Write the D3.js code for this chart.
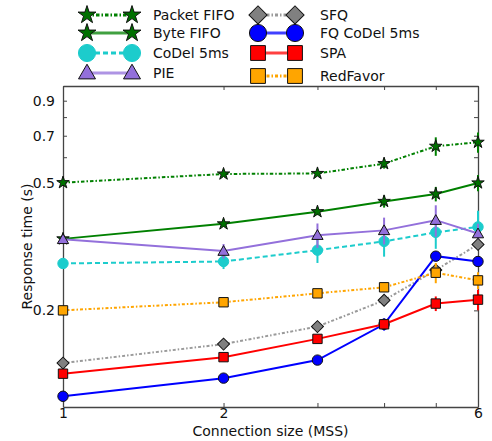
<!DOCTYPE html>
<html>
<head>
<meta charset="utf-8">
<script src="https://cdn.jsdelivr.net/npm/d3@7/dist/d3.min.js"></script>
<style>
  body { margin: 0; background: #fff; }
  text { font-family: "DejaVu Sans", sans-serif; }
</style>
</head>
<body>
<div id="chart"></div>
<script>
// connection size in MSS
const sizes = [1, 2, 3, 4, 5, 6];
const xTickLabels = [1, 2, 6];
const xMinorTicks = [3, 4, 5];
const yTickLabels = [0.2, 0.5, 0.7, 0.9];
const yMinorTicks = [0.6, 0.8];

// mean response time (s) per scheme
const packetFifo = [0.500, 0.532, 0.534, 0.573, 0.649, 0.668];
const byteFifo   = [0.334, 0.372, 0.406, 0.437, 0.461, 0.499];
const codel      = [0.280, 0.284, 0.308, 0.328, 0.350, 0.364];
const pie        = [0.333, 0.306, 0.343, 0.355, 0.382, 0.347];
const sfq        = [0.137, 0.157, 0.178, 0.215, 0.267, 0.321];
const fqCodel    = [0.108, 0.123, 0.140, 0.181, 0.295, 0.284];
const spa        = [0.127, 0.143, 0.163, 0.181, 0.210, 0.216];
const redFavor   = [0.200, 0.212, 0.226, 0.236, 0.262, 0.248];

// error bar half widths (s)
const packetFifoErr = [0.008, 0.008, 0.008, 0.020, 0.043, 0.048];
const byteFifoErr   = [0.006, 0.008, 0.010, 0.019, 0.024, 0.029];
const codelErr      = [0.004, 0.015, 0.027, 0.034, 0.039, 0.045];
const pieErr        = [0.005, 0.016, 0.030, 0.034, 0.043, 0.025];
const sfqErr        = [0.002, 0.003, 0.003, 0.004, 0.005, 0.006];
const fqCodelErr    = [0.002, 0.003, 0.004, 0.008, 0.010, 0.010];
const spaErr        = [0.003, 0.003, 0.004, 0.005, 0.011, 0.016];
const redFavorErr   = [0.003, 0.003, 0.004, 0.005, 0.019, 0.015];

const width = 492, height = 441;
const plot = { left: 63, top: 86, right: 478, bottom: 407 };

const series = [
  { name: 'Packet FIFO', v: packetFifo, e: packetFifoErr, color: '#008000', fill: '#007000', dash: '3.5,2,1.5,2', shape: 'star', col: 0, row: 0 },
  { name: 'Byte FIFO', v: byteFifo, e: byteFifoErr, color: '#008000', fill: '#007000', dash: null, shape: 'star', col: 0, row: 1 },
  { name: 'CoDel 5ms', v: codel, e: codelErr, color: '#1ccccc', fill: '#1ccccc', dash: '5,3', shape: 'circle', edge: '#1ccccc', col: 0, row: 2 },
  { name: 'PIE', v: pie, e: pieErr, color: '#9370db', fill: '#9370db', dash: null, shape: 'triangle', col: 0, row: 3 },
  { name: 'SFQ', v: sfq, e: sfqErr, color: '#9a9a9a', fill: '#808080', dash: '3,2,1.5,2', shape: 'diamond', col: 1, row: 0 },
  { name: 'FQ CoDel 5ms', v: fqCodel, e: fqCodelErr, color: '#0000ff', fill: '#0000ff', dash: null, shape: 'circle', col: 1, row: 1 },
  { name: 'SPA', v: spa, e: spaErr, color: '#ff0000', fill: '#ff0000', dash: null, shape: 'square', col: 1, row: 2 },
  { name: 'RedFavor', v: redFavor, e: redFavorErr, color: '#ffa500', fill: '#ffa500', dash: '3,2,1.5,2', shape: 'square', col: 1, row: 3 }
];

const x = d3.scaleLog().domain([1, 6]).range([plot.left, plot.right]);
const y = d3.scaleLog().domain([0.1, 1.0]).range([plot.bottom, plot.top]);

const svg = d3.select('#chart').append('svg')
  .attr('width', width)
  .attr('height', height);

// *** symbol helpers *** //
const symbolSizes = {
  star: [48, 100], circle: [85, 230], triangle: [55, 125], square: [88, 220], diamond: [72, 165]
};
const symbolTypes = {
  star: d3.symbolStar, circle: d3.symbolCircle, triangle: d3.symbolTriangle,
  square: d3.symbolSquare, diamond: d3.symbolSquare
};
function drawMarker(g, s, cx, cy, big) {
  const size = symbolSizes[s.shape][big ? 1 : 0];
  g.append('path')
    .attr('d', d3.symbol().type(symbolTypes[s.shape]).size(size)())
    .attr('transform', `translate(${cx},${cy})` + (s.shape === 'diamond' ? ' rotate(45)' : '') + (s.shape === 'triangle' ? ' translate(0,1)' : ''))
    .attr('fill', s.fill)
    .attr('stroke', s.edge || '#111')
    .attr('stroke-width', 1);
}

// *** axes frame *** //
const axes = svg.append('g');
const bottomAxis = d3.axisBottom(x).tickValues(xTickLabels).tickFormat(d3.format('d')).tickSizeInner(-4).tickSizeOuter(0).tickPadding(1);
const topAxis = d3.axisTop(x).tickValues(xTickLabels.concat(xMinorTicks)).tickFormat('').tickSizeInner(-4).tickSizeOuter(0);
const leftAxis = d3.axisLeft(y).tickValues(yTickLabels).tickFormat(d3.format('.1f')).tickSizeInner(-4).tickSizeOuter(0).tickPadding(8);
const rightAxis = d3.axisRight(y).tickValues(yTickLabels.concat(yMinorTicks)).tickFormat('').tickSizeInner(-4).tickSizeOuter(0);

axes.append('g').attr('transform', `translate(0,${plot.bottom})`).call(bottomAxis);
axes.append('g').attr('transform', `translate(0,${plot.top})`).call(topAxis);
axes.append('g').attr('transform', `translate(${plot.left},0)`).call(leftAxis);
axes.append('g').attr('transform', `translate(${plot.right},0)`).call(rightAxis);

// unlabeled ticks on the bottom and left
axes.append('g').attr('transform', `translate(0,${plot.bottom})`)
  .call(d3.axisBottom(x).tickValues(xMinorTicks).tickFormat('').tickSizeInner(-4).tickSizeOuter(0))
  .select('.domain').remove();
axes.append('g').attr('transform', `translate(${plot.left},0)`)
  .call(d3.axisLeft(y).tickValues(yMinorTicks).tickFormat('').tickSizeInner(-4).tickSizeOuter(0))
  .select('.domain').remove();

axes.selectAll('.domain').attr('stroke', '#444').attr('stroke-width', 1.3);
axes.selectAll('.tick line').attr('stroke', '#444').attr('stroke-width', 1);
axes.selectAll('.tick text')
  .style('font-family', '"DejaVu Sans", sans-serif')
  .style('font-size', '14px')
  .attr('fill', '#111');

// *** axis labels *** //
svg.append('text')
  .attr('x', (plot.left + plot.right) / 2)
  .attr('y', 436)
  .attr('text-anchor', 'middle')
  .style('font-size', '14px')
  .attr('fill', '#111')
  .text('Connection size (MSS)');

svg.append('text')
  .attr('transform', `translate(32,${(plot.top + plot.bottom) / 2}) rotate(-90)`)
  .attr('text-anchor', 'middle')
  .style('font-size', '14px')
  .attr('fill', '#111')
  .text('Response time (s)');

// *** series *** //
const line = d3.line().x(d => x(d[0])).y(d => y(d[1]));
const marks = svg.append('g');

series.forEach(s => {
  const g = marks.append('g');
  const pts = sizes.map((c, i) => [c, s.v[i], s.e[i]]);

  g.selectAll('line.err')
    .data(pts)
    .join('line')
    .attr('class', 'err')
    .attr('x1', d => x(d[0]))
    .attr('x2', d => x(d[0]))
    .attr('y1', d => y(d[1] - d[2]))
    .attr('y2', d => y(d[1] + d[2]))
    .attr('stroke', s.color)
    .attr('stroke-width', 2);

  g.append('path')
    .attr('d', line(pts))
    .attr('fill', 'none')
    .attr('stroke', s.color)
    .attr('stroke-width', 2)
    .attr('stroke-dasharray', s.dash);

  pts.forEach(d => drawMarker(g, s, x(d[0]), y(d[1]), false));
});

// *** legend *** //
const legendCols = [
  { x1: 87, x2: 132, tx: 153 },
  { x1: 258, x2: 295, tx: 320 }
];
const legendRows = [[15, 33, 53, 73], [15, 33, 53, 76]];

const legend = svg.append('g');
series.forEach(s => {
  const c = legendCols[s.col];
  const yy = legendRows[s.col][s.row];
  const g = legend.append('g');
  g.append('line')
    .attr('x1', c.x1).attr('x2', c.x2)
    .attr('y1', yy).attr('y2', yy)
    .attr('stroke', s.color)
    .attr('stroke-width', 3)
    .attr('stroke-opacity', s.dash ? 1 : 0.75)
    .attr('stroke-dasharray', s.dash);
  drawMarker(g, s, c.x1, yy, true);
  drawMarker(g, s, c.x2, yy, true);
  g.append('text')
    .attr('x', c.tx)
    .attr('y', yy + 5)
    .style('font-size', '14px')
    .attr('fill', '#111')
    .text(s.name);
});
</script>
</body>
</html>
